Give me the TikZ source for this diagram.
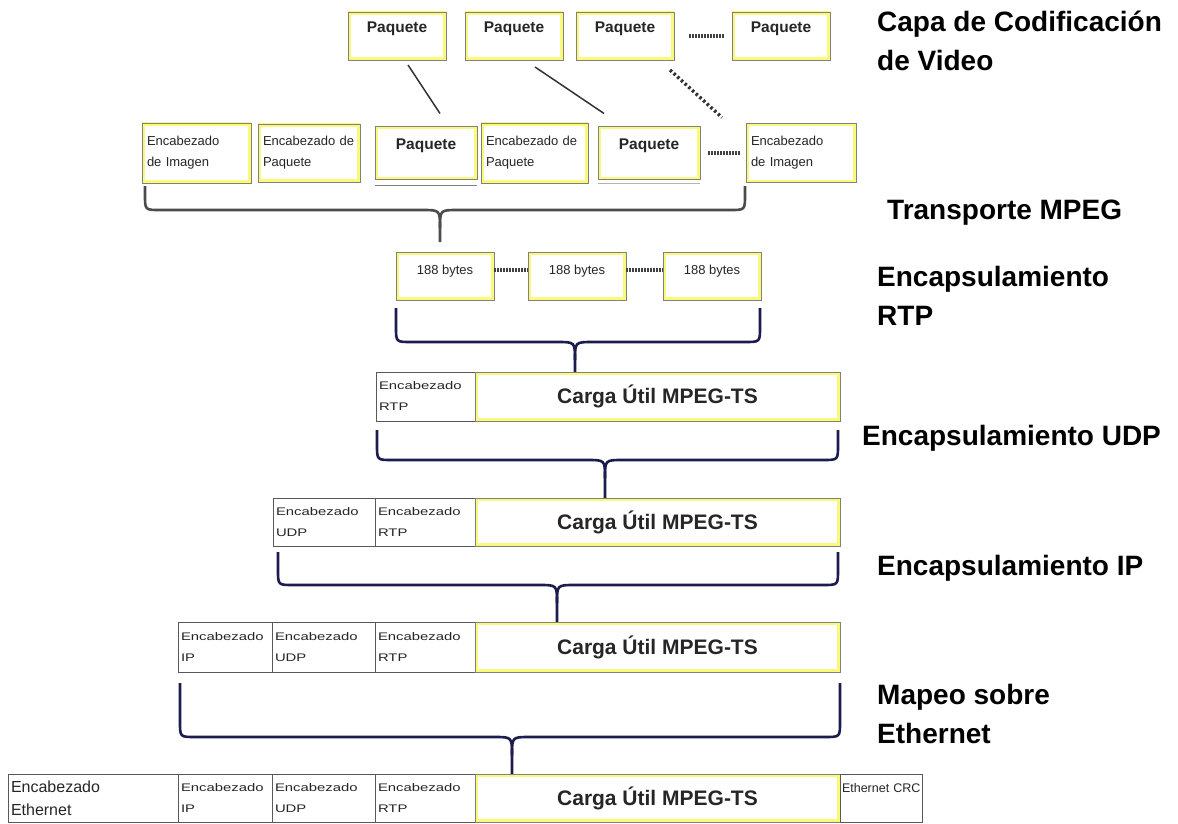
\documentclass[tikz,border=0pt]{standalone}
\usepackage{fontspec}
\setmainfont{Liberation Sans}
\newfontfamily\widefont[FakeStretch=1.35]{Liberation Sans}
\usepackage{xcolor}
\usepackage{tikz}
\usetikzlibrary{positioning}

\definecolor{bracenavy}{RGB}{28,28,78}
\definecolor{boxyellow}{RGB}{250,250,120}

% curly brace: style, x left, x right, x tip, y top, y bar, y stem end
\newcommand{\tsbrace}[7]{%
  \draw[#1] (#2,#5) -- (#2,#6-15) .. controls (#2,#6) .. (#2+15,#6) -- (#4-18,#6)
    .. controls (#4,#6) .. (#4,#6+18) -- (#4,#7);
  \draw[#1] (#3,#5) -- (#3,#6-15) .. controls (#3,#6) .. (#3-15,#6) -- (#4+18,#6)
    .. controls (#4,#6) .. (#4,#6+18);
}

\begin{document}
\begin{tikzpicture}[
  x=1pt, y=-1pt,
  ybox/.style={draw=black!50, line width=0.8pt, fill=white, outer sep=0pt, inner sep=0pt,
    path picture={\draw[boxyellow, line width=6pt] (path picture bounding box.south west) rectangle (path picture bounding box.north east);}},
  pkt/.style={ybox, font=\fontsize{15.5}{18}\selectfont\bfseries, text=black!85, text depth=17pt},
  bytes/.style={ybox, minimum width=98pt, minimum height=48pt, font=\fontsize{13}{16}\selectfont, text=black!85, text depth=12pt},
  pay/.style={ybox, minimum width=365pt, font=\fontsize{21}{25}\selectfont\bfseries, text=black!85},
  hdr/.style={draw=black!65, line width=0.8pt, fill=white, outer sep=0pt, inner xsep=0pt, inner ysep=0pt,
    text width=#1, align=left, execute at begin node={\leftskip=3pt\relax},
    font=\widefont\fontsize{11}{21}\selectfont, text=black!85},
  imghdr/.style={ybox, text width=#1, align=left, execute at begin node={\leftskip=5pt\relax},
    font=\fontsize{13}{21}\selectfont, text=black!85},
  layer_lbl/.style={anchor=west, align=left, inner sep=0pt, font=\fontsize{28}{39}\selectfont\bfseries},
  brace/.style={draw=bracenavy, line width=2.6pt, line join=round},
  link/.style={draw=black!80, line width=1.5pt},
  dotsln/.style={draw=black!75, line width=3.2pt, dash pattern=on 1.6pt off 1.4pt}
]
  \useasboundingbox (0,0) rectangle (1178,824);
  \fill[white] (0,0) rectangle (1178,824);

  % Video coding layer (top)
  \node[pkt, minimum width=98pt, minimum height=48pt, anchor=north west] (p1) at (348,12) {Paquete};
  \node[pkt, minimum width=98pt, minimum height=48pt, right=19pt of p1] (p2) {Paquete};
  \node[pkt, minimum width=98pt, minimum height=48pt, right=13pt of p2] (p3) {Paquete};
  \node[pkt, minimum width=98pt, minimum height=48pt, right=58pt of p3] (p4) {Paquete};
  \draw[dotsln, shorten <=15pt, shorten >=8pt] (p3) -- (p4);

  % MPEG transport
  \node[imghdr=109pt, minimum height=60pt, anchor=west] (img1) at (142,153) {Encabezado\\de Imagen};
  \node[imghdr=102pt, minimum height=58pt, right=7pt of img1] (ph1) {Encabezado de\\Paquete};
  \node[pkt, minimum width=102pt, minimum height=53pt, right=15pt of ph1] (tp1) {Paquete};
  \node[imghdr=107pt, minimum height=60pt, right=4pt of tp1] (ph2) {Encabezado de\\Paquete};
  \node[pkt, minimum width=102pt, minimum height=53pt, right=10pt of ph2] (tp2) {Paquete};
  \node[imghdr=110pt, minimum height=59pt, right=46pt of tp2] (img2) {Encabezado\\de Imagen};
  \draw[black!50, line width=1.2pt] ([yshift=-6pt]tp1.south west) -- ([yshift=-6pt]tp1.south east);
  \draw[black!30, line width=1pt] ([yshift=-4pt]tp2.south west) -- ([yshift=-4pt]tp2.south east);
  \draw[dotsln, shorten <=8pt, shorten >=6pt] (tp2) -- (img2);

  \draw[link] ([xshift=11pt,yshift=-5pt]p1.south) -- ([xshift=14pt,yshift=13pt]tp1.north);
  \draw[link] ([xshift=21pt,yshift=-7pt]p2.south) -- ([xshift=-45pt,yshift=13pt]tp2.north);
  \draw[link, line width=3.4pt, dash pattern=on 2.5pt off 2.5pt] ([xshift=45pt,yshift=-10pt]p3.south) -- ([xshift=-79pt,yshift=6pt]img2.north);

  \tsbrace{brace, draw=black!70}{145}{745}{440}{186}{210}{242}

  % 188 byte cells
  \node[bytes, anchor=north west] (c1) at (396,252) {188 bytes};
  \node[bytes, right=34pt of c1] (c2) {188 bytes};
  \node[bytes, right=37pt of c2] (c3) {188 bytes};
  \draw[dotsln] ([yshift=6pt]c1.east) -- ([yshift=6pt]c2.west);
  \draw[dotsln] ([yshift=6pt]c2.east) -- ([yshift=6pt]c3.west);

  \tsbrace{brace}{396}{760}{575}{308}{342}{372}

  % RTP
  \node[hdr=99pt, minimum height=49pt, anchor=north west] (rtp1) at (376,372) {Encabezado\\RTP};
  \node[pay, minimum height=49pt, right=0pt of rtp1] (pay1) {Carga Útil MPEG-TS};

  \tsbrace{brace}{377}{838}{605}{430}{460}{498}

  % UDP
  \node[hdr=102pt, minimum height=48pt, anchor=north west] (udp2) at (273,498) {Encabezado\\UDP};
  \node[hdr=100pt, minimum height=48pt, right=0pt of udp2] (rtp2) {Encabezado\\RTP};
  \node[pay, minimum height=48pt, right=0pt of rtp2] (pay2) {Carga Útil MPEG-TS};

  \tsbrace{brace}{278}{838}{557}{552}{585}{622}

  % IP
  \node[hdr=94pt, minimum height=50pt, anchor=north west] (ip3) at (178,622) {Encabezado\\IP};
  \node[hdr=103pt, minimum height=50pt, right=0pt of ip3] (udp3) {Encabezado\\UDP};
  \node[hdr=100pt, minimum height=50pt, right=0pt of udp3] (rtp3) {Encabezado\\RTP};
  \node[pay, minimum height=50pt, right=0pt of rtp3] (pay3) {Carga Útil MPEG-TS};

  \tsbrace{brace}{180}{840}{512}{683}{737}{774}

  % Ethernet frame
  \node[hdr=170pt, minimum height=48pt, anchor=north west, font=\fontsize{16}{23}\selectfont] (eth4) at (8,774) {Encabezado\\Ethernet};
  \node[hdr=94pt, minimum height=48pt, right=0pt of eth4] (ip4) {Encabezado\\IP};
  \node[hdr=103pt, minimum height=48pt, right=0pt of ip4] (udp4) {Encabezado\\UDP};
  \node[hdr=100pt, minimum height=48pt, right=0pt of udp4] (rtp4) {Encabezado\\RTP};
  \node[pay, minimum height=48pt, right=0pt of rtp4] (pay4) {Carga Útil MPEG-TS};
  \node[hdr=82pt, minimum height=48pt, right=0pt of pay4, font=\fontsize{12.5}{15}\selectfont, text depth=20pt, execute at begin node={\leftskip=2pt\relax}] (crc4) {Ethernet CRC};

  % layer names
  \node[layer_lbl] (lcod) at (877,41) {Capa de Codificación\\de Video};
  \node[layer_lbl] (lmpeg) at (887,213) {Transporte MPEG};
  \node[layer_lbl] (lrtp) at (877,296) {Encapsulamiento\\RTP};
  \node[layer_lbl] (ludp) at (862,438) {Encapsulamiento UDP};
  \node[layer_lbl] (lip) at (877,568) {Encapsulamiento IP};
  \node[layer_lbl] (leth) at (877,714) {Mapeo sobre\\Ethernet};
\end{tikzpicture}
\end{document}
